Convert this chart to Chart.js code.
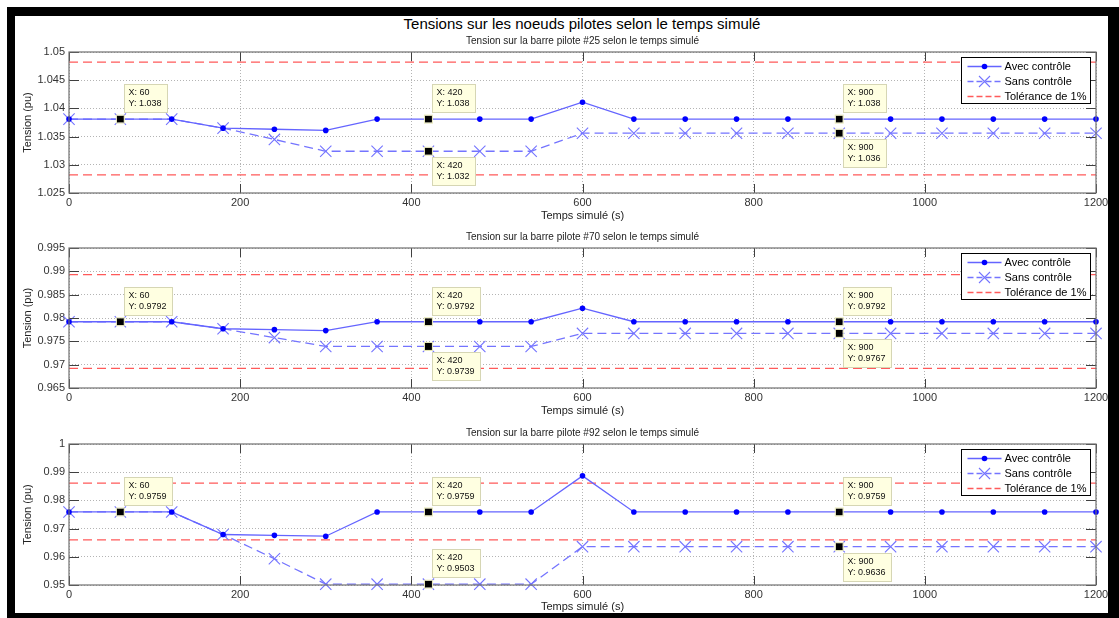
<!DOCTYPE html>
<html><head><meta charset="utf-8">
<script src="https://cdn.jsdelivr.net/npm/chart.js@4/dist/chart.umd.min.js"></script>
<style>
html,body{margin:0;padding:0;background:#fff;width:1119px;height:618px;overflow:hidden;font-family:"Liberation Sans",Arial,sans-serif}
#frame{position:absolute;left:7px;top:7px;width:1112px;height:611px;background:#000}
#inner{position:absolute;left:15px;top:16px;width:1093px;height:597px;background:#fff}
#title{position:absolute;left:0;width:1164px;top:15px;line-height:18px;text-align:center;font-size:15px;color:#000}
canvas{position:absolute;left:0}
</style></head><body>
<div id="frame"></div><div id="inner"></div>
<div id="title">Tensions sur les noeuds pilotes selon le temps simulé</div>
<canvas id="c1"></canvas><canvas id="c2"></canvas><canvas id="c3"></canvas>
<script>
// ---- data ----
const temps = [0,60,120,180,240,300,360,420,480,540,600,660,720,780,840,900,960,1020,1080,1140,1200];

const avec25 = [1.0381,1.0381,1.0381,1.0365,1.0363,1.0361,1.0381,1.0381,1.0381,1.0381,1.0411,1.0381,1.0381,1.0381,1.0381,1.0381,1.0381,1.0381,1.0381,1.0381,1.0381];
const sans25 = [1.0381,1.0381,1.0381,1.0365,1.0345,1.0324,1.0324,1.0324,1.0324,1.0324,1.0356,1.0356,1.0356,1.0356,1.0356,1.0356,1.0356,1.0356,1.0356,1.0356,1.0356];
const tol25 = [1.0482, 1.0282];

const avec70 = [0.9792,0.9792,0.9792,0.9777,0.9775,0.9773,0.9792,0.9792,0.9792,0.9792,0.9821,0.9792,0.9792,0.9792,0.9792,0.9792,0.9792,0.9792,0.9792,0.9792,0.9792];
const sans70 = [0.9792,0.9792,0.9792,0.9777,0.9758,0.9739,0.9739,0.9739,0.9739,0.9739,0.9767,0.9767,0.9767,0.9767,0.9767,0.9767,0.9767,0.9767,0.9767,0.9767,0.9767];
const tol70 = [0.9893, 0.9692];

const avec92 = [0.9759,0.9759,0.9759,0.9679,0.9676,0.9673,0.9759,0.9759,0.9759,0.9759,0.9887,0.9759,0.9759,0.9759,0.9759,0.9759,0.9759,0.9759,0.9759,0.9759,0.9759];
const sans92 = [0.9759,0.9759,0.9759,0.9679,0.9593,0.9503,0.9503,0.9503,0.9503,0.9503,0.9636,0.9636,0.9636,0.9636,0.9636,0.9636,0.9636,0.9636,0.9636,0.9636,0.9636];
const tol92 = [0.9861, 0.9660];

const tipsAvec = [1, 7, 15];   // indices of data tips (60, 420, 900 s)
const tipsSans = [7, 15];

const seriesNames = ['Avec contrôle', 'Sans contrôle', 'Tolérance de 1%'];
const xLabel = 'Temps simulé (s)';
const yLabel = 'Tension (pu)';
const subTitles = [
  'Tension sur la barre pilote #25 selon le temps simulé',
  'Tension sur la barre pilote #70 selon le temps simulé',
  'Tension sur la barre pilote #92 selon le temps simulé'
];

// ---- styles ----
const FONT = '"Liberation Sans", Arial, sans-serif';
const C_AVEC_LINE = '#6464ff', C_AVEC_PT = '#0000ff';
const C_SANS = '#7474ff';
const C_TOL = '#ff5a5a';
const DASH = [9,5];

const fmt = v => String(parseFloat(Number(v).toFixed(4)));
const fmtTip = v => String(parseFloat(Number(v).toPrecision(4)));

const matlabPlugin = {
  id: 'matlab',
  afterDraw(chart, args, o) {
    const ctx = chart.ctx, ca = chart.chartArea;
    const xs = chart.scales.x, ys = chart.scales.y;
    ctx.save();
    // inward ticks
    ctx.strokeStyle = '#404040'; ctx.lineWidth = 1;
    ctx.beginPath();
    xs.ticks.forEach(t => {
      const px = Math.round(xs.getPixelForValue(t.value)) + 0.5;
      ctx.moveTo(px, ca.bottom); ctx.lineTo(px, ca.bottom - 9);
      ctx.moveTo(px, ca.top); ctx.lineTo(px, ca.top + 9);
    });
    ys.ticks.forEach(t => {
      const py = Math.round(ys.getPixelForValue(t.value)) + 0.5;
      ctx.moveTo(ca.left, py); ctx.lineTo(ca.left + 10, py);
      ctx.moveTo(ca.right, py); ctx.lineTo(ca.right - 10, py);
    });
    ctx.stroke();
    // axes box
    ctx.strokeStyle = '#707070'; ctx.lineWidth = 1.2;
    ctx.strokeRect(ca.left, ca.top, ca.right - ca.left, ca.bottom - ca.top);
    // subtitle
    ctx.fillStyle = '#222'; ctx.font = '10px ' + FONT;
    ctx.textAlign = 'center'; ctx.textBaseline = 'middle';
    ctx.fillText(o.sub, (ca.left + ca.right) / 2, ca.top - 11);
    // legend
    const bw = 129, bh = 46, bx = Math.round(ca.right - 6 - bw) + 0.5, by = Math.round(ca.top + 5) + 0.5;
    ctx.fillStyle = '#fff'; ctx.fillRect(bx, by, bw, bh);
    ctx.strokeStyle = '#000'; ctx.lineWidth = 1; ctx.strokeRect(bx, by, bw, bh);
    ctx.textAlign = 'left'; ctx.font = '11px ' + FONT;
    for (let i = 0; i < 3; i++) {
      const y = by + 9 + i * 15;
      ctx.save();
      ctx.lineWidth = 1.3;
      if (i === 0) { ctx.strokeStyle = C_AVEC_LINE; }
      else if (i === 1) { ctx.strokeStyle = C_SANS; ctx.setLineDash([6,3]); }
      else { ctx.strokeStyle = C_TOL; ctx.setLineDash([6,3]); }
      ctx.beginPath(); ctx.moveTo(bx + 6, y); ctx.lineTo(bx + 40, y); ctx.stroke();
      ctx.setLineDash([]);
      if (i === 0) {
        ctx.fillStyle = C_AVEC_PT; ctx.beginPath(); ctx.arc(bx + 23, y, 2.8, 0, Math.PI * 2); ctx.fill();
      } else if (i === 1) {
        ctx.strokeStyle = C_SANS; ctx.lineWidth = 1.1; ctx.beginPath();
        ctx.moveTo(bx + 17.5, y - 5.5); ctx.lineTo(bx + 28.5, y + 5.5);
        ctx.moveTo(bx + 28.5, y - 5.5); ctx.lineTo(bx + 17.5, y + 5.5); ctx.stroke();
      }
      ctx.restore();
      ctx.fillStyle = '#000';
      ctx.fillText(seriesNames[i], bx + 43, y + 0.5);
    }
    // data tips
    const drawTip = (xv, yv, below) => {
      const px = xs.getPixelForValue(xv), py = ys.getPixelForValue(yv);
      ctx.font = '9px ' + FONT;
      const l1 = 'X: ' + xv, l2 = 'Y: ' + fmtTip(yv);
      const w = Math.ceil(Math.max(ctx.measureText(l1).width, ctx.measureText(l2).width)) + 9;
      const h = 28;
      const tx = Math.round(px + 4) + 0.5, ty = Math.round(below ? py + 6 : py - 35) + 0.5;
      ctx.fillStyle = '#ffffe1'; ctx.fillRect(tx, ty, w, h);
      ctx.strokeStyle = '#d6d6b4'; ctx.lineWidth = 1; ctx.strokeRect(tx, ty, w, h);
      ctx.fillStyle = '#111'; ctx.textAlign = 'left'; ctx.textBaseline = 'middle';
      ctx.fillText(l1, tx + 4, ty + h / 2 - 5.5);
      ctx.fillText(l2, tx + 4, ty + h / 2 + 5.5);
      ctx.fillStyle = '#000'; ctx.fillRect(px - 3.5, py - 3.5, 7, 7);
      ctx.strokeStyle = '#e8e8b8'; ctx.strokeRect(px - 4, py - 4, 8, 8);
    };
    o.tipsAvec.forEach(i => drawTip(temps[i], o.avec[i], false));
    o.tipsSans.forEach((i, k) => drawTip(temps[i], o.sans[i], o.sansBelow[k]));
    ctx.restore();
  }
};

const plots = [
  {id:'c1', top:30,  height:200, xAxisH:37, xTitlePad:7.4, yMin:1.025, yMax:1.05, yStep:0.005, avec:avec25, sans:sans25, tol:tol25, sub:subTitles[0], sansBelow:[true,true]},
  {id:'c2', top:226, height:200, xAxisH:38, xTitlePad:8.4, yMin:0.965, yMax:0.995, yStep:0.005, avec:avec70, sans:sans70, tol:tol70, sub:subTitles[1], sansBelow:[true,true]},
  {id:'c3', top:422, height:196, xAxisH:33, xTitlePad:4.4, yMin:0.95,  yMax:1.0,   yStep:0.01,  avec:avec92, sans:sans92, tol:tol92, sub:subTitles[2], sansBelow:[false,true]}
];

plots.forEach(p => {
  const cv = document.getElementById(p.id);
  cv.style.top = p.top + 'px';
  cv.width = 1119; cv.height = p.height;
  cv.style.width = '1119px'; cv.style.height = p.height + 'px';
  const pts = arr => temps.map((t, i) => ({x: t, y: arr[i]}));
  const tolLine = v => [{x: temps[0], y: v}, {x: temps[temps.length - 1], y: v}];
  new Chart(cv, {
    type: 'line',
    data: {
      datasets: [
        {label: seriesNames[0], data: pts(p.avec), order: 0, borderColor: C_AVEC_LINE, borderWidth: 1.3,
         pointRadius: 2.8, pointBackgroundColor: C_AVEC_PT, pointBorderColor: C_AVEC_PT, pointBorderWidth: 0,
         pointStyle: 'circle', tension: 0, clip: false},
        {label: seriesNames[1], data: pts(p.sans), order: 1, borderColor: C_SANS, borderWidth: 1.3, borderDash: DASH,
         pointRadius: 8, pointStyle: 'crossRot', pointBorderColor: C_SANS, pointBorderWidth: 1.1,
         pointBackgroundColor: 'transparent', tension: 0, clip: false},
        {label: seriesNames[2], data: tolLine(p.tol[0]), order: 2, borderColor: C_TOL, borderWidth: 1.2, borderDash: DASH, pointRadius: 0},
        {label: seriesNames[2], data: tolLine(p.tol[1]), order: 2, borderColor: C_TOL, borderWidth: 1.2, borderDash: DASH, pointRadius: 0}
      ]
    },
    options: {
      responsive: false, animation: false, devicePixelRatio: 1,
      layout: {padding: {top: 22, right: 23, bottom: 0, left: 0}},
      plugins: {legend: {display: false}, tooltip: {enabled: false}, title: {display: false},
                matlab: {sub: p.sub, avec: p.avec, sans: p.sans, tipsAvec: tipsAvec, tipsSans: tipsSans, sansBelow: p.sansBelow}},
      scales: {
        x: {type: 'linear', min: 0, max: 1200,
            afterFit: s => { s.height = p.xAxisH; },
            ticks: {stepSize: 200, padding: 3, maxRotation: 0, color: '#333', font: {family: FONT, size: 11}, callback: v => String(v)},
            grid: {drawTicks: false, color: '#b4b4b4', lineWidth: 1},
            border: {display: false, dash: [1,2]},
            title: {display: true, text: xLabel, color: '#222', font: {family: FONT, size: 11}, padding: {top: 0, bottom: p.xTitlePad}}},
        y: {type: 'linear', min: p.yMin, max: p.yMax,
            afterFit: s => { s.width = 69; },
            ticks: {stepSize: p.yStep, padding: 4, color: '#333', font: {family: FONT, size: 11}, callback: v => fmt(v)},
            grid: {drawTicks: false, color: '#b4b4b4', lineWidth: 1},
            border: {display: false, dash: [1,2]},
            title: {display: true, text: yLabel, color: '#222', font: {family: FONT, size: 11}, padding: {top: 21.4, bottom: 0}}}
      }
    },
    plugins: [matlabPlugin]
  });
});
</script>
</body></html>
